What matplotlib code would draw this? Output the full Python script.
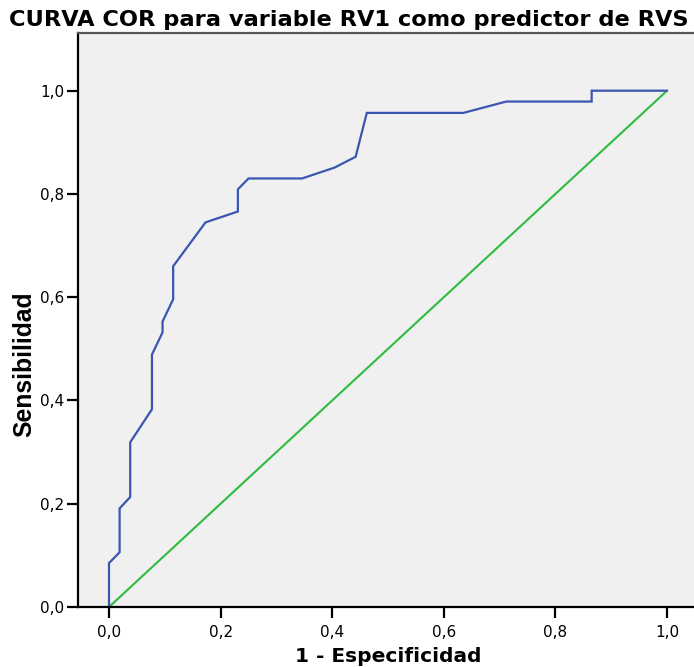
import matplotlib
matplotlib.use("Agg")
import matplotlib.pyplot as plt
from matplotlib.ticker import FuncFormatter, FixedLocator

# ROC curve points: 1 - specificity (x) and sensitivity (y)
fpr = [0.0, 0.0, 0.019, 0.019, 0.038, 0.038, 0.077, 0.077, 0.096, 0.096,
       0.115, 0.115, 0.173, 0.231, 0.231, 0.250, 0.346, 0.404, 0.442,
       0.462, 0.635, 0.712, 0.865, 0.865, 1.0]
tpr = [0.0, 0.085, 0.106, 0.191, 0.213, 0.319, 0.383, 0.489, 0.532, 0.553,
       0.596, 0.660, 0.745, 0.766, 0.809, 0.830, 0.830, 0.851, 0.872,
       0.957, 0.957, 0.979, 0.979, 1.0, 1.0]
ref_line = [0.0, 1.0]
ticks = [0.0, 0.2, 0.4, 0.6, 0.8, 1.0]

title = "CURVA COR para variable RV1 como predictor de RVS"
xlabel = "1 - Especificidad"
ylabel = "Sensibilidad"

plt.rcParams["font.family"] = ["DejaVu Sans"]

W, H = 694, 667
fig = plt.figure(figsize=(W / 100, H / 100), dpi=100)
left, right, top, bottom = 78, 694, 33, 607
ax = fig.add_axes([left / W, (H - bottom) / H, (right - left) / W, (bottom - top) / H])
ax.set_facecolor("#f0f0f0")

x0, x1 = 109, 667
y0, y1 = 607, 90.7
sx = x1 - x0
sy = y0 - y1
ax.set_xlim((left - x0) / sx, (right - x0) / sx)
ax.set_ylim(0, (y0 - top) / sy)

ax.plot(ref_line, ref_line, color="#2ebc3f", lw=1.5, solid_capstyle="butt")
ax.plot(fpr, tpr, color="#3b56b0", lw=1.6, solid_joinstyle="miter")

comma = FuncFormatter(lambda v, p: f"{v:.1f}".replace(".", ","))
ax.xaxis.set_major_locator(FixedLocator(ticks))
ax.yaxis.set_major_locator(FixedLocator(ticks))
ax.xaxis.set_major_formatter(comma)
ax.yaxis.set_major_formatter(comma)
ax.tick_params(axis="both", direction="out", length=8, width=1.6, color="black",
               labelsize=11)
ax.tick_params(axis="x", pad=5)
ax.tick_params(axis="y", pad=2)

ax.spines["right"].set_visible(False)
ax.spines["left"].set_linewidth(1.6)
ax.spines["bottom"].set_linewidth(1.6)
ax.spines["top"].set_linewidth(1.6)
ax.spines["top"].set_color("#555555")

fig.text(349 / W, 1 - 20 / H, title, ha="center", va="center",
         fontsize=16.2, fontweight="bold")
fig.text(388 / W, 1 - 657 / H, xlabel, ha="center", va="center",
         fontsize=14.5, fontweight="bold")
fig.text(24 / W, 1 - 364 / H, ylabel, ha="center", va="center", rotation=90,
         fontsize=17.8, fontweight="bold", family=["Liberation Sans", "DejaVu Sans"])

fig.savefig("out.png", dpi=100)
